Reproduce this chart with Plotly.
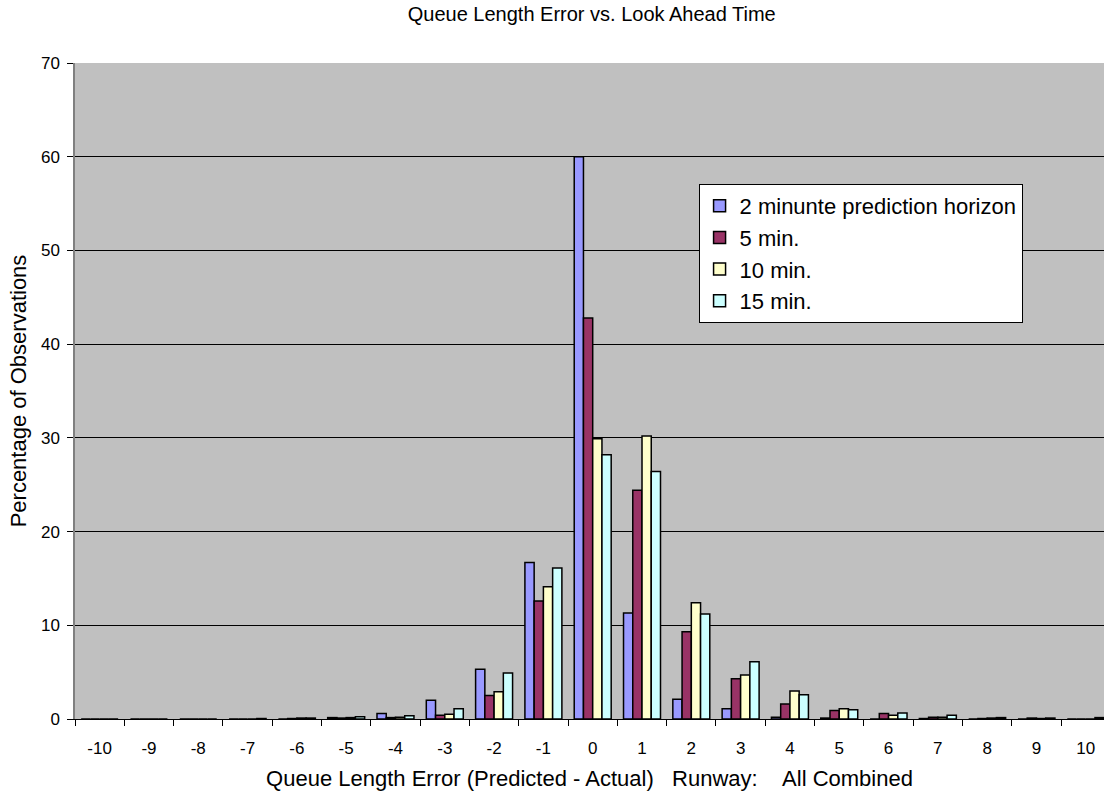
import plotly.graph_objects as go

categories = [str(i) for i in range(-10, 11)]
series_names = ["2 minunte prediction horizon", "5 min.", "10 min.", "15 min."]
min2 = [0, 0, 0, 0, 0, 0.15, 0.6, 2.0, 5.3, 16.7, 60.0, 11.3, 2.1, 1.1, 0.2, 0.1, 0, 0.05, 0, 0, 0]
min5 = [0, 0, 0, 0, 0.05, 0.1, 0.15, 0.4, 2.5, 12.6, 42.8, 24.4, 9.3, 4.3, 1.6, 0.9, 0.6, 0.2, 0.05, 0.1, 0]
min10 = [0, 0, 0, 0, 0.1, 0.15, 0.2, 0.5, 2.9, 14.1, 29.9, 30.2, 12.4, 4.7, 3.0, 1.1, 0.4, 0.2, 0.1, 0.05, 0]
min15 = [0, 0, 0, 0.05, 0.1, 0.25, 0.35, 1.1, 4.9, 16.1, 28.2, 26.4, 11.2, 6.1, 2.6, 1.0, 0.65, 0.4, 0.15, 0.1, 0.15]
colors = ["#9999FF", "#993366", "#FFFFCC", "#CCFFFF"]

fig = go.Figure()
for i, (name, vals) in enumerate(zip(series_names, [min2, min5, min10, min15])):
    fig.add_trace(go.Bar(
        x=categories, y=vals, name=name, legendgroup=f"g{i}",
        marker=dict(color=colors[i], line=dict(color="black", width=1.5)),
    ))

font = "Liberation Sans, Arial, sans-serif"
fig.update_layout(
    width=1104, height=792,
    margin=dict(l=75, r=0, t=63, b=73),
    paper_bgcolor="white", plot_bgcolor="#C0C0C0",
    barmode="group", bargap=0.25, bargroupgap=0,
    font=dict(family=font, size=17, color="black"),
    title=dict(text="Queue Length Error vs. Look Ahead Time", x=0.536, xanchor="center",
               y=0.982, yanchor="middle", font=dict(size=20)),
    showlegend=True,
    legend=dict(x=0.606, y=0.8155, xanchor="left", yanchor="top",
                bgcolor="white", bordercolor="black", borderwidth=1,
                font=dict(size=22), traceorder="grouped", tracegroupgap=0,
                itemwidth=30),
    xaxis=dict(
        type="category", range=[-0.5, 20.37], automargin=False,
        tickson="boundaries", ticks="outside", ticklen=6, tickcolor="black",
        showline=True, linecolor="black", linewidth=1, showgrid=False,
        ticklabelstandoff=14,
        title=dict(text="Queue Length Error (Predicted - Actual)&nbsp;&nbsp;&nbsp;Runway:&nbsp;&nbsp;&nbsp;&nbsp;All Combined",
                   font=dict(size=22), standoff=13),
        tickfont=dict(size=17),
    ),
    yaxis=dict(
        range=[0, 70], dtick=10, ticks="outside", ticklen=6, tickcolor="black",
        automargin=False, ticklabelstandoff=4,
        showgrid=True, gridcolor="black", gridwidth=1,
        showline=True, linecolor="#808080", linewidth=1.5, mirror=True,
        zeroline=False,
        title=dict(text="Percentage of Observations", font=dict(size=22), standoff=8),
        tickfont=dict(size=17),
    ),
)
fig.write_html("out.html", config={"displayModeBar": False},
               post_script="document.body.style.margin='0';document.body.style.overflow='hidden';")
